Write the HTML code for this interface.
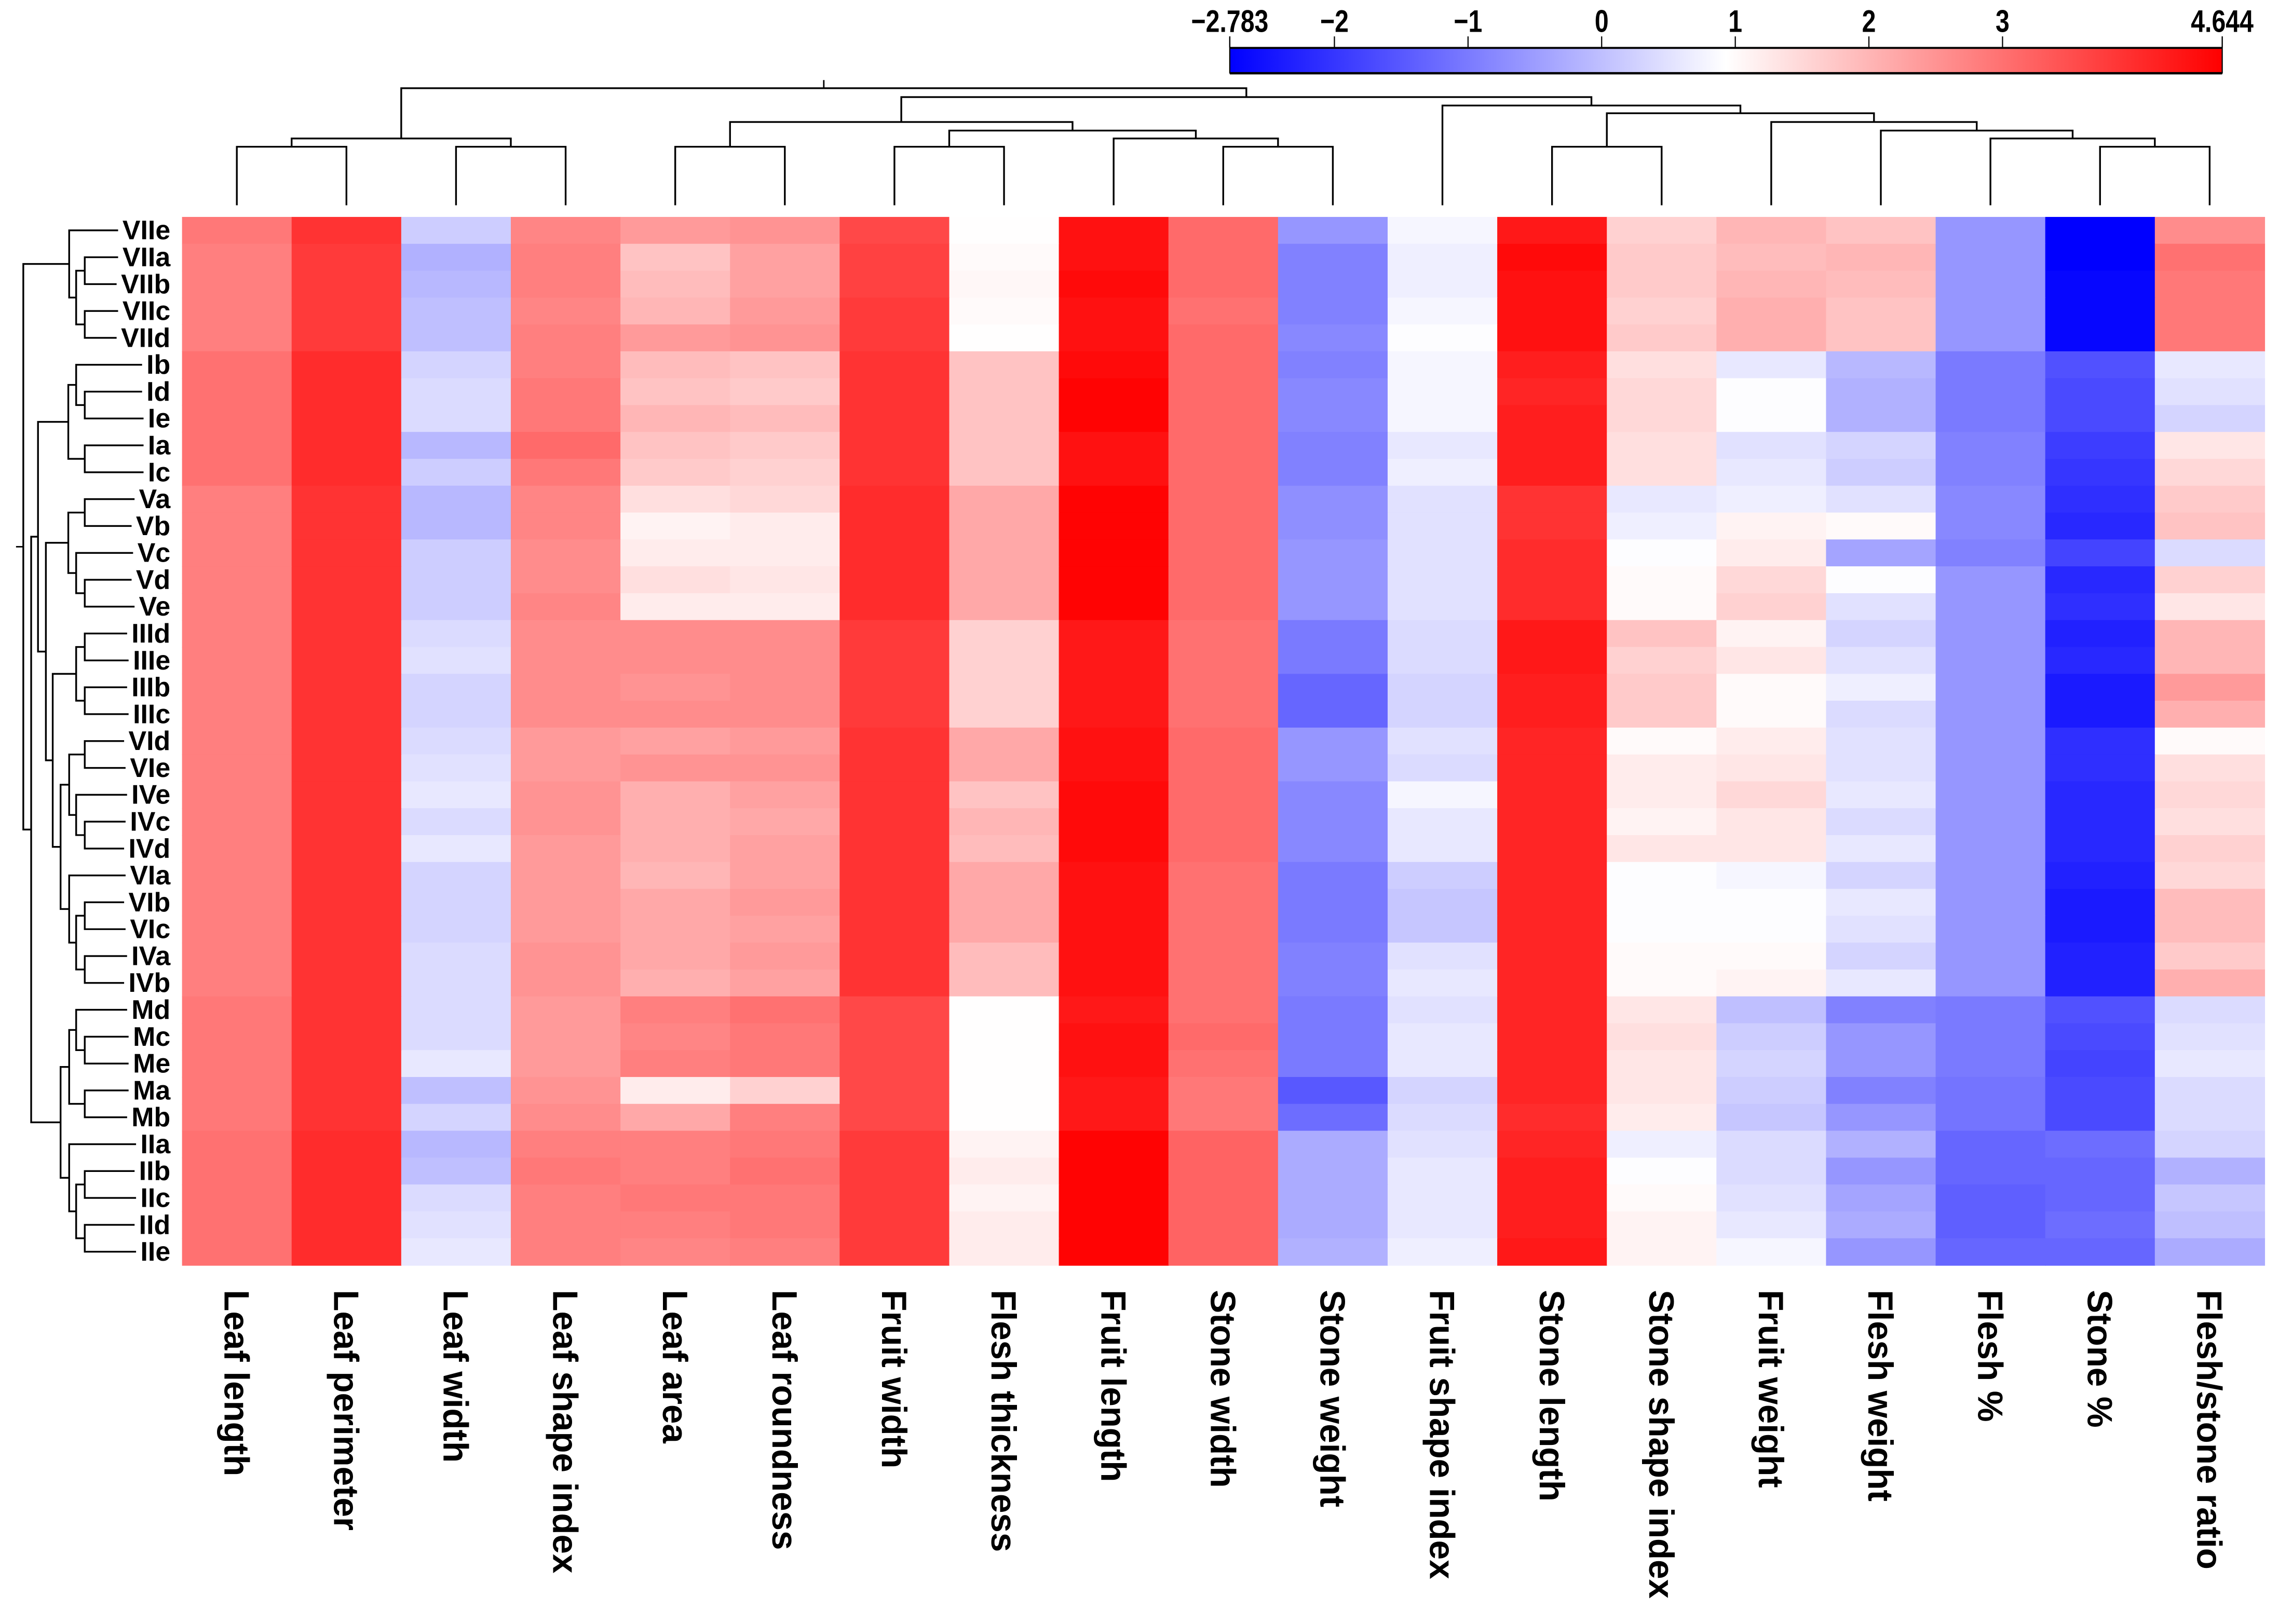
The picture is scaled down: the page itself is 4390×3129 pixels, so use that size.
<!DOCTYPE html>
<html><head><meta charset="utf-8"><style>
html,body{margin:0;padding:0;background:#fff;}
svg{display:block;}
text{font-family:"Liberation Sans",sans-serif;font-weight:bold;fill:#000;}
</style></head><body>
<svg id="chart" width="4390" height="3129" viewBox="0 0 1565 1115.5" preserveAspectRatio="none" xmlns="http://www.w3.org/2000/svg">
<defs>
<linearGradient id="cbgrad" x1="0" x2="1" y1="0" y2="0">
<stop offset="0" stop-color="#0000ff"/>
<stop offset="0.5" stop-color="#ffffff"/>
<stop offset="1" stop-color="#ff0000"/>
</linearGradient>
</defs>
<g id="colorbar"></g>
<g id="topdendro"></g>
<g id="leftdendro"></g>
<g id="cells"></g>
<g id="rowlabels"></g>
<g id="collabels"></g>
</svg>
<script>
const columns = ["Leaf length","Leaf perimeter","Leaf width","Leaf shape index","Leaf area","Leaf roundness","Fruit width","Flesh thickness","Fruit length","Stone width","Stone weight","Fruit shape index","Stone length","Stone shape index","Fruit weight","Flesh weight","Flesh %","Stone %","Flesh/stone ratio"];
const rows = ["VIIe","VIIa","VIIb","VIIc","VIId","Ib","Id","Ie","Ia","Ic","Va","Vb","Vc","Vd","Ve","IIId","IIIe","IIIb","IIIc","VId","VIe","IVe","IVc","IVd","VIa","VIb","VIc","IVa","IVb","Md","Mc","Me","Ma","Mb","IIa","IIb","IIc","IId","IIe"];
const scaleMin = -2.783;
const scaleMax = 4.644;
const tickValues = [-2.783,-2,-1,0,1,2,3,4.644];
const tickLabels = ["\u22122.783","\u22122","\u22121","0","1","2","3","4.644"];
const values = [
[2.9,3.9,0.2,2.7,2.4,2.5,3.6,0.95,4.4,3.1,-0.6,0.8,4.3,1.6,2.0,1.8,-0.6,-2.78,2.6],
[2.8,3.8,-0.2,2.8,1.8,2.3,3.7,1.0,4.4,3.1,-0.9,0.7,4.5,1.7,1.9,2.0,-0.6,-2.78,3.0],
[2.8,3.8,-0.1,2.8,1.9,2.3,3.7,1.05,4.5,3.1,-0.9,0.7,4.4,1.7,2.0,1.9,-0.6,-2.7,2.9],
[2.8,3.8,0.0,2.7,2.0,2.4,3.8,1.0,4.4,3.0,-0.9,0.8,4.4,1.6,2.1,1.8,-0.6,-2.7,2.9],
[2.8,3.8,0.0,2.8,2.4,2.5,3.8,0.95,4.4,3.1,-0.8,0.9,4.4,1.7,2.1,1.8,-0.6,-2.7,2.9],
[3.0,4.0,0.3,2.8,1.9,1.8,3.9,1.8,4.5,3.1,-0.9,0.8,4.2,1.4,0.6,-0.1,-1.0,-1.6,0.6],
[3.0,4.0,0.4,2.9,1.8,1.7,3.9,1.8,4.6,3.1,-0.8,0.8,4.1,1.5,0.9,-0.2,-1.0,-1.7,0.5],
[3.0,4.0,0.4,2.9,2.0,1.9,3.9,1.8,4.6,3.1,-0.8,0.8,4.2,1.5,0.9,-0.2,-1.0,-1.7,0.3],
[3.0,4.0,-0.1,3.1,1.8,1.7,3.9,1.8,4.4,3.1,-0.9,0.6,4.2,1.4,0.5,0.3,-0.9,-1.9,1.3],
[3.0,4.0,0.2,2.9,1.7,1.6,3.9,1.8,4.4,3.1,-0.9,0.7,4.2,1.4,0.6,0.2,-0.9,-2.0,1.5],
[2.8,3.9,-0.1,2.7,1.4,1.5,4.0,2.2,4.6,3.1,-0.7,0.5,3.9,0.6,0.7,0.5,-0.8,-2.1,1.7],
[2.8,3.9,-0.1,2.7,1.1,1.2,4.0,2.2,4.6,3.1,-0.7,0.5,3.9,0.7,1.1,1.0,-0.8,-2.2,1.8],
[2.8,3.9,0.2,2.6,1.2,1.2,4.0,2.2,4.6,3.1,-0.6,0.5,4.0,0.9,1.2,-0.4,-0.9,-1.8,0.4],
[2.8,3.9,0.2,2.6,1.4,1.3,4.0,2.2,4.6,3.1,-0.6,0.5,4.0,1.0,1.5,0.9,-0.6,-2.2,1.6],
[2.8,3.9,0.2,2.7,1.2,1.2,4.0,2.2,4.6,3.1,-0.6,0.5,4.0,1.0,1.6,0.5,-0.6,-2.1,1.3],
[2.8,3.9,0.4,2.6,2.6,2.6,3.8,1.6,4.3,3.0,-1.0,0.4,4.3,1.8,1.1,0.3,-0.6,-2.3,2.0],
[2.8,3.9,0.5,2.6,2.6,2.6,3.8,1.6,4.3,3.0,-1.0,0.4,4.3,1.6,1.3,0.5,-0.6,-2.2,2.0],
[2.8,3.9,0.3,2.6,2.5,2.6,3.8,1.6,4.3,3.0,-1.3,0.3,4.2,1.7,1.0,0.7,-0.6,-2.4,2.4],
[2.8,3.9,0.3,2.6,2.6,2.6,3.8,1.6,4.3,3.0,-1.3,0.3,4.2,1.7,1.0,0.4,-0.6,-2.4,2.1],
[2.8,3.9,0.4,2.4,2.3,2.4,3.9,2.2,4.4,3.1,-0.6,0.5,4.1,1.0,1.2,0.5,-0.6,-2.1,1.0],
[2.8,3.9,0.5,2.4,2.5,2.5,3.9,2.2,4.4,3.1,-0.6,0.4,4.1,1.2,1.3,0.5,-0.6,-2.1,1.4],
[2.8,3.9,0.6,2.5,2.1,2.3,3.9,1.8,4.5,3.1,-0.8,0.8,4.1,1.2,1.5,0.6,-0.6,-2.2,1.5],
[2.8,3.9,0.4,2.5,2.1,2.2,3.9,2.0,4.5,3.1,-0.8,0.6,4.1,1.1,1.3,0.4,-0.6,-2.2,1.4],
[2.8,3.9,0.6,2.4,2.1,2.3,3.9,1.9,4.5,3.1,-0.8,0.6,4.1,1.3,1.3,0.6,-0.6,-2.2,1.6],
[2.8,3.9,0.3,2.4,2.0,2.3,3.9,2.2,4.4,3.0,-1.0,0.2,4.1,0.9,0.8,0.3,-0.6,-2.3,1.5],
[2.8,3.9,0.3,2.4,2.2,2.4,3.9,2.2,4.4,3.0,-1.0,0.1,4.1,0.9,0.9,0.6,-0.6,-2.4,1.9],
[2.8,3.9,0.3,2.4,2.2,2.3,3.9,2.2,4.4,3.0,-1.0,0.1,4.1,0.9,0.9,0.5,-0.6,-2.4,1.9],
[2.8,3.9,0.4,2.5,2.2,2.4,3.9,1.9,4.4,3.0,-0.9,0.5,4.1,1.0,1.0,0.3,-0.6,-2.3,1.7],
[2.8,3.9,0.4,2.5,2.1,2.3,3.9,1.9,4.4,3.0,-0.9,0.6,4.1,1.0,1.1,0.6,-0.6,-2.3,2.1],
[2.9,3.9,0.4,2.4,2.8,3.0,3.6,0.95,4.3,3.0,-1.0,0.5,4.1,1.3,0.0,-0.9,-1.0,-1.6,0.4],
[2.9,3.9,0.4,2.4,2.7,2.9,3.6,0.95,4.4,3.1,-1.0,0.6,4.1,1.4,0.2,-0.6,-1.0,-1.7,0.5],
[2.9,3.9,0.6,2.4,2.8,2.9,3.6,0.95,4.4,3.0,-1.0,0.6,4.1,1.3,0.3,-0.6,-1.0,-1.8,0.6],
[2.9,3.9,0.0,2.5,1.2,1.6,3.6,0.95,4.3,2.9,-1.5,0.3,4.1,1.3,0.2,-0.9,-1.1,-1.7,0.4],
[2.9,3.9,0.3,2.6,2.2,2.8,3.6,0.95,4.3,2.9,-1.2,0.4,4.0,1.2,0.1,-0.6,-1.1,-1.7,0.4],
[3.0,4.0,-0.1,2.8,2.8,2.9,3.8,1.1,4.6,3.2,-0.3,0.5,4.1,0.7,0.4,-0.2,-1.3,-1.2,0.3],
[3.0,4.0,0.0,2.9,2.8,3.0,3.8,1.2,4.6,3.2,-0.3,0.6,4.2,0.9,0.4,-0.6,-1.3,-1.3,-0.2],
[3.0,4.0,0.4,2.8,2.9,2.9,3.8,1.1,4.6,3.2,-0.3,0.6,4.2,1.0,0.5,-0.4,-1.4,-1.3,0.1],
[3.0,4.0,0.5,2.8,2.8,2.9,3.8,1.2,4.6,3.2,-0.3,0.6,4.2,1.1,0.6,-0.3,-1.4,-1.2,0.0],
[3.0,4.0,0.6,2.8,2.7,2.8,3.8,1.2,4.6,3.2,-0.2,0.7,4.3,1.1,0.8,-0.6,-1.3,-1.3,-0.3]
];
const colTree = [60.6,[95.1,[100.8,0,1],[100.8,2,3]],[66.7,[83.8,[100.8,4,5],[89.7,[100.8,6,7],[95.1,8,[100.8,9,10]]]],[72.5,11,[77.8,[100.8,12,13],[83.8,14,[89.7,15,[95.1,16,[100.8,17,18]]]]]]]];
const rowTree = [16,[47.5,0,[52.3,[58.2,1,2],[58.2,3,4]]],
 [21.4,
  [26.1,[46.9,[52.3,5,[58.2,6,7]],[58.2,8,9]],
   [31.5,[46.9,[58.2,10,11],[52.3,12,[58.2,13,14]]],
    [36.2,[52.3,[58.2,15,16],[58.2,17,18]],
     [41.6,[47.5,[58.2,19,20],[52.3,21,[58.2,22,23]]],[47.5,24,[52.3,[58.2,25,26],[58.2,27,28]]]]]]],
  [41.6,[47.5,[52.3,29,[58.2,30,31]],[58.2,32,33]],[47.5,34,[52.3,[58.2,35,36],[58.2,37,38]]]]]];

const NS="http://www.w3.org/2000/svg";
const X0=125, X1=1555, Y0=149, Y1=869;
const cw=(X1-X0)/columns.length, rh=(Y1-Y0)/rows.length;
const xCol=i=>X0+i*cw, yRow=j=>Y0+j*rh;
const CB0=844.5, CB1=1526;
const xScale=v=>CB0+(v-scaleMin)/(scaleMax-scaleMin)*(CB1-CB0);
const mid=(scaleMin+scaleMax)/2;
function color(v){
  let r,g,b;
  if(v>=mid){let t=Math.min(1,(v-mid)/(scaleMax-mid));r=255;g=b=Math.round(255*(1-t));}
  else{let t=Math.min(1,(mid-v)/(mid-scaleMin));b=255;r=g=Math.round(255*(1-t));}
  return `rgb(${r},${g},${b})`;
}
function mk(tag,attrs,parent){const e=document.createElementNS(NS,tag);for(const k in attrs)e.setAttribute(k,attrs[k]);parent.appendChild(e);return e;}

const cells=document.getElementById('cells');
values.forEach((row,j)=>row.forEach((v,i)=>{
  const r=mk('rect',{x:xCol(i),y:yRow(j),width:cw+0.4,height:rh+0.4,fill:color(v)},cells);
  
  
}));

const cb=document.getElementById('colorbar');
const bar=mk('rect',{x:CB0,y:32.7,width:CB1-CB0,height:17.8,fill:'url(#cbgrad)'},cb);


mk('line',{x1:CB0,x2:CB1,y1:32.9,y2:32.9,stroke:'#000','stroke-width':1.4},cb);
mk('line',{x1:CB0,x2:CB1,y1:50.3,y2:50.3,stroke:'#000','stroke-width':1.6},cb);
mk('line',{x1:CB0,x2:CB0,y1:25,y2:50.5,stroke:'#000','stroke-width':0.8},cb);
mk('line',{x1:CB1,x2:CB1,y1:25,y2:50.5,stroke:'#000','stroke-width':0.8},cb);
tickValues.forEach((v,k)=>{
  const x=xScale(v);
  const tk=mk('line',{x1:x,x2:x,y1:25,y2:32.7,stroke:'#000','stroke-width':0.8},cb);
  
  
  const t=mk('text',{x:x,y:22,'text-anchor':'middle','font-size':21.5,transform:`translate(${x},22) scale(0.8,1) translate(${-x},-22)`},cb);
  t.textContent=tickLabels[k];
  
  
});

const td=document.getElementById('topdendro');
const LEAFY=141;
function drawTop(n){
  if(typeof n==='number') return {x:xCol(n)+cw/2,y:LEAFY};
  const a=drawTop(n[1]), b=drawTop(n[2]), h=n[0];
  const p=mk('path',{d:`M${a.x},${a.y}V${h}H${b.x}V${b.y}`,fill:'none',stroke:'#000','stroke-width':1.2},td);
  
  
  return {x:(a.x+b.x)/2,y:h};
}
const rootT=drawTop(colTree);
mk('line',{x1:rootT.x,x2:rootT.x,y1:55,y2:rootT.y,stroke:'#000','stroke-width':1},td);

const ld=document.getElementById('leftdendro');
const LEAFX=116;
function drawLeft(n){
  if(typeof n==='number') return {x:LEAFX,y:yRow(n)+rh/2};
  const a=drawLeft(n[1]), b=drawLeft(n[2]), h=n[0];
  const p=mk('path',{d:`M${a.x},${a.y}H${h}V${b.y}H${b.x}`,fill:'none',stroke:'#000','stroke-width':1.2},ld);
  
  
  return {x:h,y:(a.y+b.y)/2};
}
const rootL=drawLeft(rowTree);
mk('line',{x1:11,x2:rootL.x,y1:rootL.y,y2:rootL.y,stroke:'#000','stroke-width':1},ld);

const rl=document.getElementById('rowlabels');
rows.forEach((name,j)=>{
  const y=yRow(j)+rh/2+6.2;
  const t=mk('text',{x:117,y:y,'text-anchor':'end','font-size':18.5},rl);
  t.textContent=name;
  
  
  const bb=t.getBBox();
  const bg=mk('rect',{x:bb.x-3,y:yRow(j)+rh/2-3,width:bb.width+3,height:6,fill:'#fff'},rl);
  rl.insertBefore(bg,t);
});

const cl=document.getElementById('collabels');
columns.forEach((name,i)=>{
  const x=xCol(i)+cw/2-8.5;
  const t=mk('text',{x:0,y:0,'font-size':24,transform:`translate(${x},886) rotate(90)`},cl);
  t.textContent=name;
  
  
});
</script>
</body></html>
